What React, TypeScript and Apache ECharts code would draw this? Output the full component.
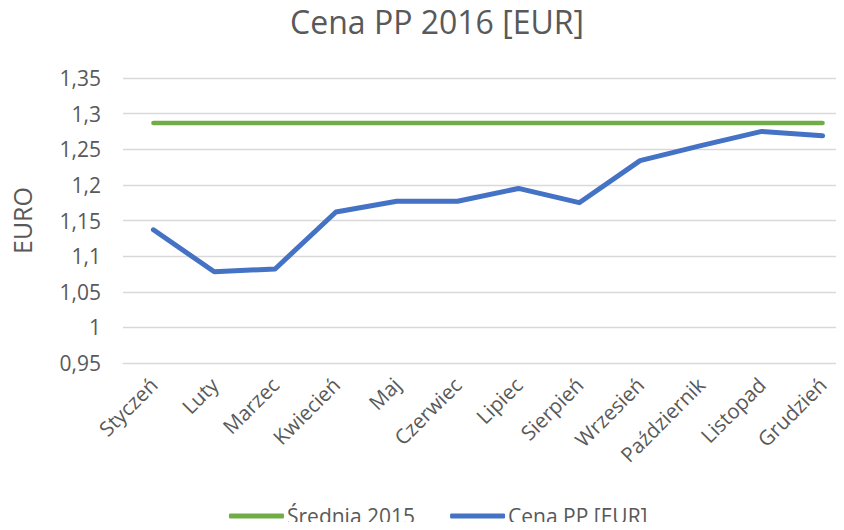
import React, { useEffect, useRef } from "react";
import * as echarts from "echarts";

const months = ["Styczeń", "Luty", "Marzec", "Kwiecień", "Maj", "Czerwiec", "Lipiec", "Sierpień", "Wrzesień", "Październik", "Listopad", "Grudzień"];
const average2015 = [1.287, 1.287, 1.287, 1.287, 1.287, 1.287, 1.287, 1.287, 1.287, 1.287, 1.287, 1.287];
const price2016 = [1.137, 1.078, 1.082, 1.162, 1.177, 1.177, 1.195, 1.175, 1.234, 1.255, 1.275, 1.269];
const seriesNames = ["Średnia 2015", "Cena PP [EUR]"];

const FONT = "'Open Sans', 'Noto Sans', sans-serif";
const TXT = "#595959";

export default function App() {
  const ref = useRef<HTMLDivElement>(null);
  useEffect(() => {
    if (!ref.current) return;
    const chart = echarts.init(ref.current, undefined, { renderer: "svg" });
    chart.setOption({
      animation: false,
      backgroundColor: "#ffffff",
      title: {
        text: "Cena PP 2016 [EUR]",
        left: 432,
        textAlign: "center",
        top: 0,
        textStyle: { fontFamily: FONT, fontSize: 32, fontWeight: "normal", color: TXT },
      },
      legend: {
        top: 504,
        left: 229,
        padding: 0,
        itemWidth: 55,
        itemHeight: 5,
        itemGap: 35,
        icon: "roundRect",
        textStyle: { fontFamily: FONT, fontSize: 21, lineHeight: 24, color: TXT, padding: [0, 0, 0, -2] },
        data: seriesNames,
      },
      grid: { left: 123, top: 78, width: 730, height: 285 },
      xAxis: {
        type: "category",
        data: months,
        boundaryGap: true,
        axisLine: { show: true, lineStyle: { color: "#d9d9d9", width: 1 } },
        axisTick: { show: false },
        axisLabel: { rotate: 45, interval: 0, margin: 18, fontFamily: FONT, fontSize: 20.5, color: TXT },
      },
      yAxis: {
        type: "value",
        min: 0.95,
        max: 1.35,
        interval: 0.05,
        name: "EURO",
        nameLocation: "middle",
        nameGap: 89,
        nameRotate: 90,
        nameTextStyle: { fontFamily: FONT, fontSize: 25, color: TXT },
        axisLine: { show: false },
        axisTick: { show: false },
        splitLine: { lineStyle: { color: "#d9d9d9", width: 1.3 } },
        axisLabel: {
          margin: 22,
          fontFamily: FONT,
          fontSize: 21,
          color: TXT,
          formatter: (v: number) => String(Math.round(v * 100) / 100).replace(".", ","),
        },
      },
      series: [
        {
          name: seriesNames[0],
          type: "line",
          data: average2015,
          showSymbol: false,
          symbol: "none",
          lineStyle: { color: "#70AD47", width: 4.5, cap: "round" },
          itemStyle: { color: "#70AD47" },
        },
        {
          name: seriesNames[1],
          type: "line",
          data: price2016,
          showSymbol: false,
          symbol: "none",
          lineStyle: { color: "#4472C4", width: 5, cap: "round", join: "round" },
          itemStyle: { color: "#4472C4" },
        },
      ],
    });
    return () => chart.dispose();
  }, []);
  return (
    <div style={{ width: 844, height: 530, margin: -8, overflow: "hidden", position: "relative" }}>
      <div ref={ref} style={{ width: 880, height: 530 }} />
    </div>
  );
}
